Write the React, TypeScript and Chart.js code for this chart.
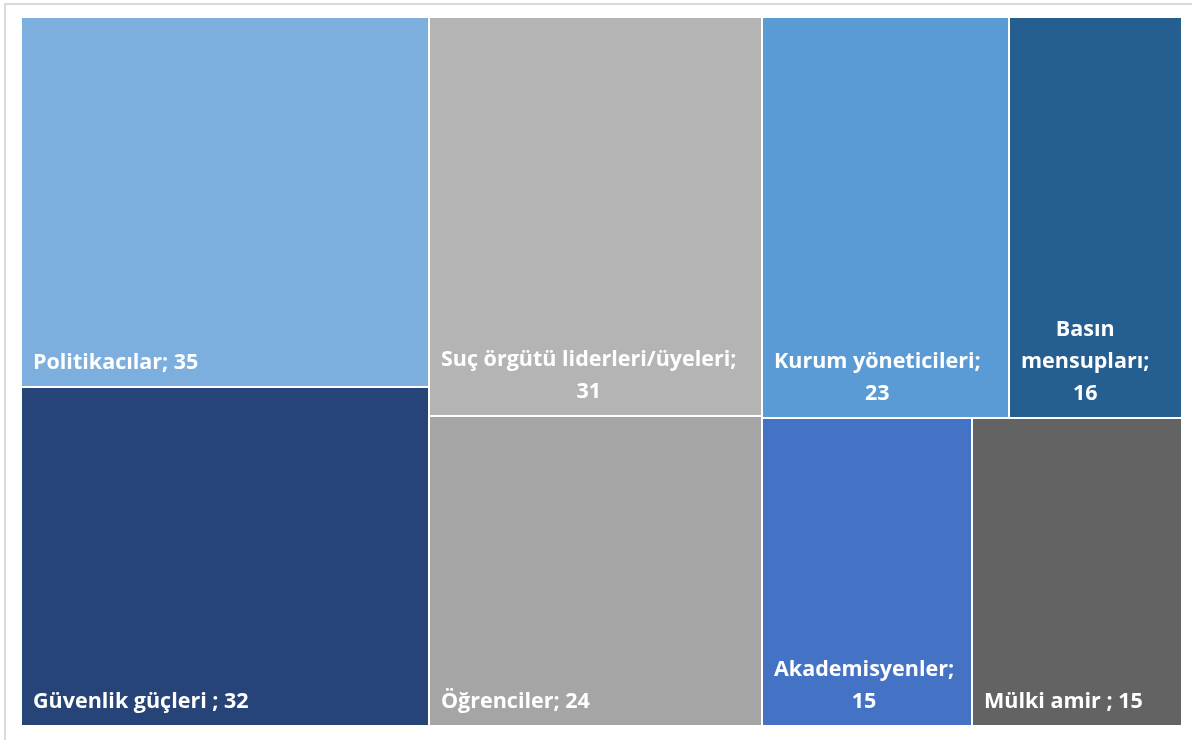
import React, { useEffect, useRef } from "react";
import { Chart, registerables } from "chart.js";

Chart.register(...registerables);

const categories = [
  "Politikacılar",
  "Güvenlik güçleri ",
  "Suç örgütü liderleri/üyeleri",
  "Öğrenciler",
  "Kurum yöneticileri",
  "Basın mensupları",
  "Akademisyenler",
  "Mülki amir ",
];
const values = [35, 32, 31, 24, 23, 16, 15, 15];
const colors = [
  "#7CAFDD",
  "#264478",
  "#B4B4B4",
  "#A5A5A5",
  "#5B9BD5",
  "#255E91",
  "#4472C4",
  "#636363",
];
// Treemap structure: columns -> rows -> cells (indices into the arrays above)
const groups = [
  [[0], [1]],
  [[2], [3]],
  [[4, 5], [6, 7]],
];

const FONT = "bold 21.5px 'Open Sans'";
const LINE_H = 32;
const PAD_X = 11;
const PAD_B = 17;

function wrap(ctx: CanvasRenderingContext2D, text: string, maxW: number): string[] {
  const words = text.split(" ").filter((w) => w.length > 0);
  const lines: string[] = [];
  let cur = "";
  for (const w of words) {
    const test = cur ? cur + " " + w : w;
    if (cur && ctx.measureText(test).width > maxW) {
      lines.push(cur);
      cur = w;
    } else {
      cur = test;
    }
  }
  if (cur) lines.push(cur);
  return lines;
}

const treemapPlugin = {
  id: "treemapCells",
  beforeDraw(chart: any) {
    const ctx = chart.ctx;
    ctx.save();
    ctx.strokeStyle = "#DADADA";
    ctx.lineWidth = 2;
    ctx.strokeRect(5, 4, chart.width + 20, chart.height + 20);
    ctx.restore();
  },
  afterDatasetsDraw(chart: any) {
    const ctx: CanvasRenderingContext2D = chart.ctx;
    const xs = chart.scales.x;
    const ys = chart.scales.y;
    const area = chart.chartArea;
    ctx.save();
    let xAcc = 0;
    for (const col of groups) {
      const colSum = col.reduce((s, r) => s + r.reduce((a, i) => a + values[i], 0), 0);
      let yAcc = 0;
      for (const row of col) {
        const rowSum = row.reduce((a, i) => a + values[i], 0);
        let cAcc = 0;
        for (const idx of row) {
          const vx0 = xAcc + (colSum * cAcc) / rowSum;
          const vx1 = xAcc + (colSum * (cAcc + values[idx])) / rowSum;
          const vy0 = yAcc / colSum;
          const vy1 = (yAcc + rowSum) / colSum;
          let l = xs.getPixelForValue(vx0);
          let r = xs.getPixelForValue(vx1);
          let t = ys.getPixelForValue(vy0);
          let b = ys.getPixelForValue(vy1);
          if (l > area.left + 0.5) l += 1;
          if (r < area.right - 0.5) r -= 1;
          if (t > area.top + 0.5) t += 1;
          if (b < area.bottom - 0.5) b -= 1;
          l = Math.round(l);
          r = Math.round(r);
          t = Math.round(t);
          b = Math.round(b);
          ctx.fillStyle = colors[idx];
          ctx.fillRect(l, t, r - l, b - t);

          // label
          ctx.font = FONT;
          ctx.fillStyle = "#FFFFFF";
          ctx.textBaseline = "alphabetic";
          const label = categories[idx] + "; " + values[idx];
          const lines = wrap(ctx, label, r - l - 2 * PAD_X + 2);
          const widths = lines.map((s) => ctx.measureText(s).width);
          const maxW = Math.max(...widths);
          const blockCenter = l + PAD_X + maxW / 2;
          lines.forEach((s, k) => {
            const y = b - PAD_B - (lines.length - 1 - k) * LINE_H;
            if (lines.length === 1) {
              ctx.textAlign = "left";
              ctx.fillText(s, l + PAD_X, y);
            } else {
              ctx.textAlign = "center";
              ctx.fillText(s, blockCenter, y);
            }
          });
          cAcc += values[idx];
        }
        yAcc += rowSum;
      }
      xAcc += colSum;
    }
    ctx.restore();
  },
};

export default function App() {
  const ref = useRef<HTMLCanvasElement>(null);
  useEffect(() => {
    document.body.style.margin = "0";
    document.body.style.overflow = "hidden";
    const total = values.reduce((a, b) => a + b, 0);
    const chart = new Chart(ref.current as HTMLCanvasElement, {
      type: "scatter",
      data: {
        datasets: [{ label: "cells", data: [], pointRadius: 0 }],
      },
      options: {
        animation: false,
        responsive: true,
        maintainAspectRatio: false,
        layout: { padding: { left: 22, top: 18, right: 11, bottom: 15 } },
        plugins: { legend: { display: false }, tooltip: { enabled: false } },
        scales: {
          x: { type: "linear", min: 0, max: total, display: false },
          y: { type: "linear", min: 0, max: 1, reverse: true, display: false },
        },
      },
      plugins: [treemapPlugin],
    });
    return () => chart.destroy();
  }, []);
  return (
    <div style={{ width: 1192, height: 740, position: "relative" }}>
      <canvas ref={ref} />
    </div>
  );
}
